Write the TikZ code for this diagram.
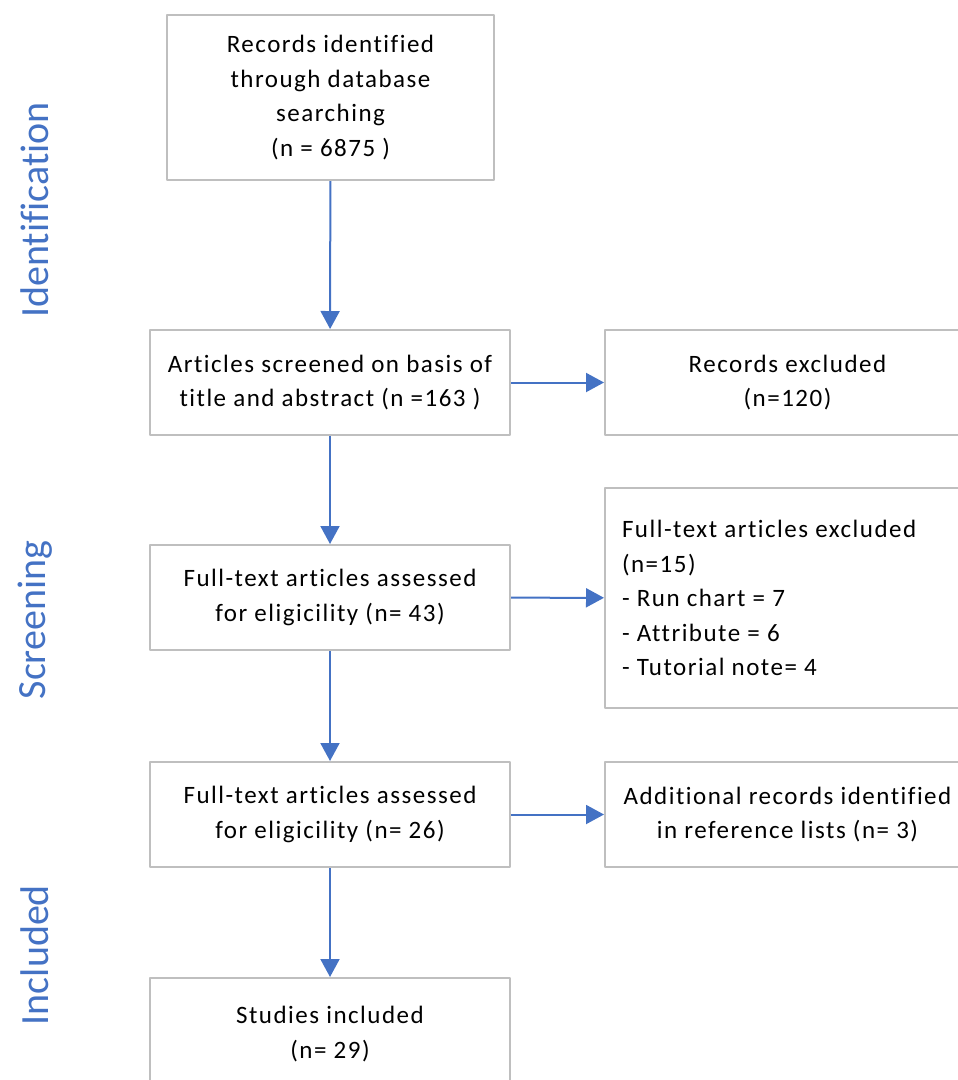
\documentclass[tikz,border=0pt]{standalone}
\usepackage{fontspec}
\setmainfont{Carlito}[LetterSpace=6,Ligatures=NoCommon]
\newfontfamily\phasefont{Carlito}[Ligatures=NoCommon]
\usetikzlibrary{arrows.meta}
\definecolor{flowblue}{HTML}{4472C4}
\definecolor{boxgray}{HTML}{BFBFBF}
\begin{document}
\begin{tikzpicture}[x=1pt,y=-1pt,line join=round,
    font=\fontsize{25}{34.5}\selectfont,
    box/.style={draw=boxgray,line width=2pt,fill=white,align=center,inner sep=0pt},
    flow/.style={draw=flowblue,line width=2pt,-{Triangle[width=19pt,length=18pt]}},
    phase/.style={text=flowblue,font=\phasefont\fontsize{40}{44}\selectfont,rotate=90}]
    \useasboundingbox (0,0) rectangle (958,1080);
    % boxes of the left column
    \node[box,minimum width=327pt,minimum height=165pt] (records) at (330.5,97.5)
        {Records identified\\through database\\searching\\(n = 6875 )};
    \node[box,minimum width=360pt,minimum height=105pt] (screened) at (330,382.5)
        {Articles screened on basis of\\title and abstract (n =163 )};
    \node[box,minimum width=360pt,minimum height=105pt] (fulltexta) at (330,597.5)
        {Full-text articles assessed\\for eligicility (n= 43)};
    \node[box,minimum width=360pt,minimum height=105pt] (fulltextb) at (330,814.5)
        {Full-text articles assessed\\for eligicility (n= 26)};
    \node[box,minimum width=360pt,minimum height=112pt] (included) at (330,1034)
        {Studies included\\(n= 29)};
    % boxes of the right column
    \node[box,minimum width=365pt,minimum height=105pt] (excluded) at (787.5,382.5)
        {Records excluded\\(n=120)};
    \node[box,minimum width=365pt,minimum height=220pt,align=flush left,text width=331pt] (ftexcluded) at (787.5,598)
        {Full-text articles excluded\\(n=15)\\- Run chart = 7\\- Attribute = 6\\- Tutorial note= 4};
    \node[box,minimum width=365pt,minimum height=105pt] (additional) at (787.5,814.5)
        {Additional records identified\\in reference lists (n= 3)};
    % phases
    \node[phase] (ident) at (35,210) {Identification};
    \node[phase] (screen) at (35,620) {Screening};
    \node[phase] (incl) at (35,955) {Included};
    % arrows
    \draw[flow] (records) -- (screened);
    \draw[flow] (screened) -- (fulltexta);
    \draw[flow] (fulltexta) -- (fulltextb);
    \draw[flow] (fulltextb) -- (included);
    \draw[flow] (screened) -- (excluded);
    \draw[flow] (fulltexta) -- (ftexcluded);
    \draw[flow] (fulltextb) -- (additional);
\end{tikzpicture}
\end{document}
